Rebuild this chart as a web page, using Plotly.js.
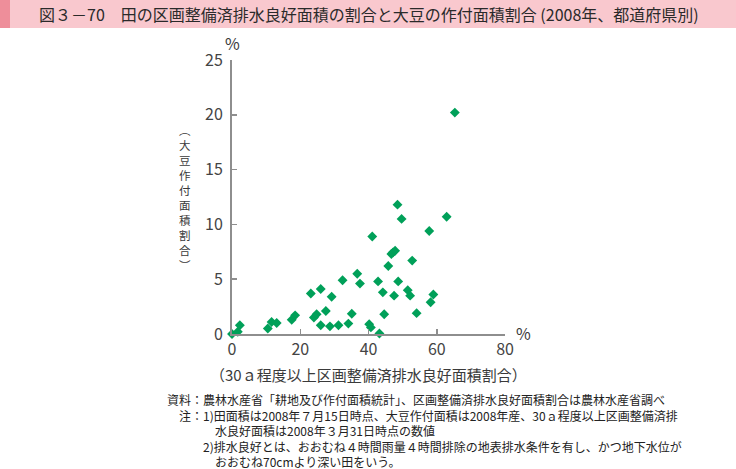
<!DOCTYPE html>
<html>
<head>
<meta charset="utf-8">
<script src="https://cdn.plot.ly/plotly-3.0.1.min.js"></script>
<style>
html,body{margin:0;padding:0;background:#fff;}
#chart{width:736px;height:469px;}
</style>
</head>
<body>
<div id="chart"></div>
<script>
// Data: x = share of drained, consolidated paddy area (%), y = soybean planted area share (%)
const drainedShare = [0, 1.7, 2.3, 10.5, 11.6, 13.1, 17.5, 18.5, 23.1, 24.0, 24.8, 26.0, 26.0, 27.5, 28.7, 29.2, 31.2, 32.4, 34.1, 35.1, 36.7, 37.5, 40.2, 40.7, 41.1, 42.8, 43.2, 44.2, 44.6, 45.8, 46.7, 47.2, 47.8, 47.5, 48.7, 48.5, 49.7, 51.5, 52.2, 52.8, 54.1, 57.8, 58.2, 59.0, 62.9, 65.3];
const soybeanShare = [0, 0.2, 0.8, 0.5, 1.1, 1.0, 1.3, 1.7, 3.7, 1.5, 1.8, 4.1, 0.8, 2.1, 0.7, 3.4, 0.8, 4.9, 0.95, 1.85, 5.5, 4.6, 0.9, 0.6, 8.9, 4.8, 0.05, 3.8, 1.8, 6.2, 7.3, 7.45, 7.6, 3.5, 4.8, 11.8, 10.5, 4.0, 3.5, 6.7, 1.9, 9.4, 2.9, 3.6, 10.7, 20.2];
const xTicks = [0, 20, 40, 60, 80];
const yTicks = [0, 5, 10, 15, 20, 25];

const titleText = "図３－70　田の区画整備済排水良好面積の割合と大豆の作付面積割合 (2008年、都道府県別)";
const xTitle = "（30ａ程度以上区画整備済排水良好面積割合）";
const yTitleChars = ["︵", "大", "豆", "作", "付", "面", "積", "割", "合", "︶"];
const notes = [
  "資料：農林水産省「耕地及び作付面積統計」、区画整備済排水良好面積割合は農林水産省調べ",
  "　注：1)田面積は2008年７月15日時点、大豆作付面積は2008年産、30ａ程度以上区画整備済排",
  "　　　　水良好面積は2008年３月31日時点の数値",
  "　　　2)排水良好とは、おおむね４時間雨量４時間排除の地表排水条件を有し、かつ地下水位が",
  "　　　　おおむね70cmより深い田をいう。"
];

const W = 736, H = 469, L = 232, R = 231, T = 60, B = 135;
const PW = W - L - R, PH = H - T - B;
const px = v => (v - L) / PW;
const py = v => (H - B - v) / PH;

const FONT = "'Noto Sans CJK JP', 'Noto Sans', sans-serif";
const TXT = "#3a3a3a";
const AX = "#8e8e8e";

const annotations = [];
function ann(text, x, y, size, opts) {
  annotations.push(Object.assign({
    text: text, xref: "paper", yref: "paper", x: px(x), y: py(y),
    showarrow: false, xanchor: "left", yanchor: "middle",
    font: {family: FONT, size: size, color: TXT}
  }, opts || {}));
}

ann(titleText, 37, 14, 16, {font: {family: FONT, size: 16, color: "#2a2a2a"}});
ann("%", 232, 43, 16, {xanchor: "center"});
ann("%", 514, 333, 16);
ann(xTitle, 368, 374, 15, {xanchor: "center"});
ann(yTitleChars.join("<br>"), 185, 197.5, 11.5, {xanchor: "center"});
ann(notes.join("<br>"), 165, 430.5, 12, {align: "left", font: {family: FONT, size: 12, color: "#222"}});

const trace = {
  type: "scatter", mode: "markers",
  x: drainedShare, y: soybeanShare,
  marker: {symbol: "diamond", size: 7.6, color: "#00a059", line: {width: 0}},
  cliponaxis: false, hoverinfo: "skip"
};

const axisCommon = {
  showgrid: false, zeroline: false, showline: true,
  linecolor: AX, linewidth: 2, ticks: "inside", ticklen: 5, tickwidth: 1.5, tickcolor: AX,
  tickfont: {family: FONT, size: 16, color: "#444"}, fixedrange: true
};

const layout = {
  width: W, height: H,
  margin: {l: L, r: R, t: T, b: B, pad: 0},
  paper_bgcolor: "#fff", plot_bgcolor: "#fff",
  showlegend: false,
  xaxis: Object.assign({}, axisCommon, {range: [0, 80], tickvals: xTicks, ticktext: xTicks.map(String)}),
  yaxis: Object.assign({}, axisCommon, {range: [0, 25], tickvals: yTicks, ticktext: yTicks.map(String), ticklabelstandoff: 4}),
  shapes: [
    {type: "rect", xref: "paper", yref: "paper", x0: px(0), x1: px(736), y0: py(0), y1: py(28), fillcolor: "#f9c8ce", line: {width: 0}, layer: "below"},
    {type: "rect", xref: "paper", yref: "paper", x0: px(0), x1: px(10), y0: py(0), y1: py(28), fillcolor: "#ee8e9a", line: {width: 0}, layer: "below"}
  ],
  annotations: annotations
};

Plotly.newPlot("chart", [trace], layout, {staticPlot: true, displayModeBar: false});
</script>
</body>
</html>
